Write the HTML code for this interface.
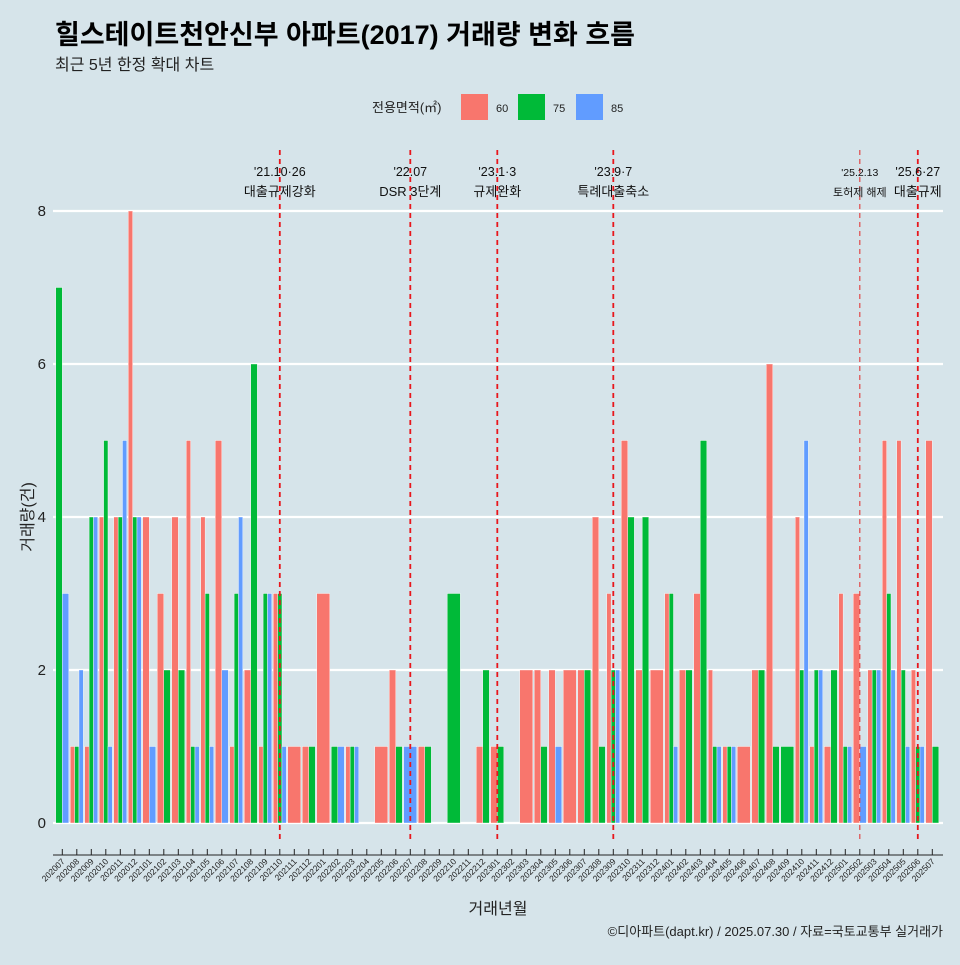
<!DOCTYPE html>
<html><head><meta charset="utf-8">
<style>
body{margin:0;background:#d6e4ea;}
svg text{font-family:"Liberation Sans","Noto Sans CJK KR",sans-serif;}
</style></head>
<body>
<svg id="chart" width="960" height="960" viewBox="0 0 960 960" xmlns="http://www.w3.org/2000/svg">
<rect x="0" y="0" width="960" height="960" fill="#d6e4ea"/>
<text x="55" y="44" font-size="27" font-weight="bold" fill="#000">힐스테이트천안신부 아파트(2017) 거래량 변화 흐름</text>
<text x="55" y="70" font-size="16" fill="#222">최근 5년 한정 확대 차트</text>
<g>
<text x="372" y="112" font-size="13" fill="#222">전용면적(㎡)</text>
<rect x="461" y="94" width="27" height="26" fill="#f8766d"/>
<text x="496" y="112" font-size="11" fill="#222">60</text>
<rect x="518" y="94" width="27" height="26" fill="#00ba38"/>
<text x="553" y="112" font-size="11" fill="#222">75</text>
<rect x="576" y="94" width="27" height="26" fill="#619cff"/>
<text x="611" y="112" font-size="11" fill="#222">85</text>
</g>
<g id="grid"></g>
<g id="bars"></g>
<g id="events"></g>
<g id="axes"></g>
<text transform="translate(33,517) rotate(-90)" text-anchor="middle" font-size="16" fill="#222">거래량(건)</text>
<text x="498" y="914" text-anchor="middle" font-size="16" fill="#222">거래년월</text>
<text x="943" y="936" text-anchor="end" font-size="13" fill="#222">©디아파트(dapt.kr) / 2025.07.30 / 자료=국토교통부 실거래가</text>
</svg>
<script>
const months = ["202007","202008","202009","202010","202011","202012","202101","202102","202103","202104","202105","202106","202107","202108","202109","202110","202111","202112","202201","202202","202203","202204","202205","202206","202207","202208","202209","202210","202211","202212","202301","202302","202303","202304","202305","202306","202307","202308","202309","202310","202311","202312","202401","202402","202403","202404","202405","202406","202407","202408","202409","202410","202411","202412","202501","202502","202503","202504","202505","202506","202507"];
const series60 = [0,1,1,4,4,8,4,3,4,5,4,5,1,2,1,3,1,1,3,0,1,0,1,2,0,1,0,0,0,1,1,0,2,2,2,2,2,4,3,5,2,2,3,2,3,2,1,1,2,6,0,4,1,1,3,3,2,5,5,2,5];
const series75 = [7,1,4,5,4,4,0,2,2,1,3,0,3,6,3,3,0,1,0,1,1,0,0,1,0,1,0,3,0,2,1,0,0,1,0,0,2,1,2,4,4,0,3,2,5,1,1,0,2,1,1,2,2,2,1,0,2,3,2,1,1];
const series85 = [3,2,4,1,5,4,1,0,0,1,1,2,4,0,3,1,0,0,0,1,1,0,0,0,1,0,0,0,0,0,0,0,0,0,1,0,0,0,2,0,0,0,1,0,0,1,1,0,0,0,0,5,2,0,1,1,2,2,1,1,0];
const yTicks = [0,2,4,6,8];
const eventMonths = ["202110","202207","202301","202309","202502","202506"];
const eventDates = ["'21.10·26","'22.07","'23.1·3","'23.9·7","'25.2.13","'25.6·27"];
const eventLabels = ["대출규제강화","DSR 3단계","규제완화","특례대출축소","토허제 해제","대출규제"];

const NS="http://www.w3.org/2000/svg";
const X0=62.3, STEP=14.5, Y0=823, YU=76.5;
const xScale=i=>X0+i*STEP;
const yScale=v=>Y0-v*YU;
const colors=["#f8766d","#00ba38","#619cff"];
const names=["60","75","85"];
function mk(tag,attrs,parent){const e=document.createElementNS(NS,tag);for(const k in attrs)e.setAttribute(k,attrs[k]);parent.appendChild(e);return e;}

const grid=document.getElementById('grid');
const axes=document.getElementById('axes');
yTicks.forEach(t=>{
  const l=mk('line',{x1:53,x2:943,y1:yScale(t),y2:yScale(t),stroke:'#fff','stroke-width':2.2},grid);
  
  
  const tx=mk('text',{x:46,y:yScale(t)+5,'text-anchor':'end','font-size':15,fill:'#222'},axes);
  
  
  tx.textContent=t;
});

const bars=document.getElementById('bars');
const all=[series60,series75,series85];
months.forEach((m,i)=>{
  const present=[0,1,2].filter(s=>all[s][i]>0);
  if(!present.length)return;
  const total=STEP*0.9, w=total/present.length, left=xScale(i)-total/2;
  present.forEach((s,k)=>{
    const v=all[s][i];
    const r=mk('rect',{x:left+k*w,y:yScale(v),width:w,height:v*YU,fill:colors[s],stroke:'#fff','stroke-width':0.4},bars);
    
    
  });
});

mk('line',{x1:53,x2:943,y1:855,y2:855,stroke:'#222','stroke-width':1},axes);
months.forEach((m,i)=>{
  const x=xScale(i);
  mk('line',{x1:x,x2:x,y1:849,y2:855,stroke:'#222','stroke-width':1},axes);
  const t=mk('text',{x:0,y:0,'text-anchor':'end','font-size':8.5,fill:'#222',transform:`translate(${x+3},${862}) rotate(-45)`},axes);
  
  
  t.textContent=m;
});

const ev=document.getElementById('events');
eventMonths.forEach((m,k)=>{
  const i=months.indexOf(m), x=xScale(i);
  const small=m==="202502";
  const l=mk('line',{x1:x,x2:x,y1:150,y2:840,stroke:small?'#e04848':'#e8161c','stroke-width':small?1.2:1.8,'stroke-dasharray':'5,4'},ev);
  
  
  const fs=small?11:13;
  const d=mk('text',{x:x,y:176,'text-anchor':'middle','font-size':fs-0.5,fill:'#111'},ev);
  
  
  d.textContent=eventDates[k];
  const lb=mk('text',{x:x,y:196,'text-anchor':'middle','font-size':fs,fill:'#111'},ev);
  
  
  lb.textContent=eventLabels[k];
});
</script>
</body></html>
